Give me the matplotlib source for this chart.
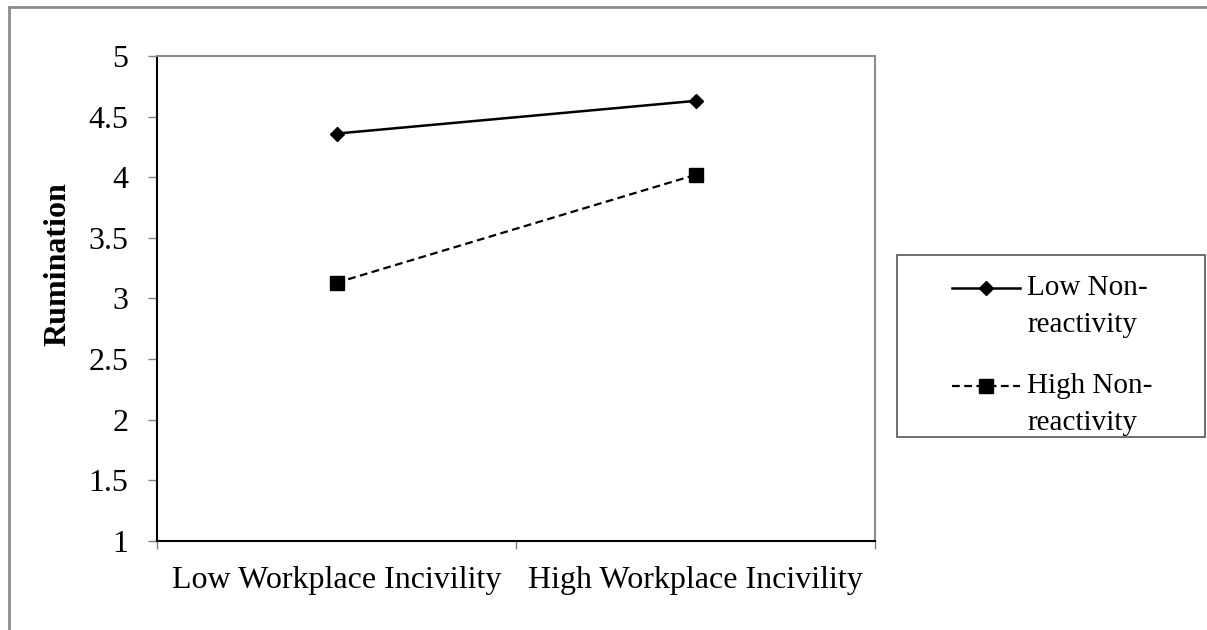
import matplotlib
matplotlib.use("Agg")
import matplotlib.pyplot as plt
from matplotlib.patches import Rectangle
from matplotlib.lines import Line2D

categories = ["Low Workplace Incivility", "High Workplace Incivility"]
series_names = [["Low Non-", "reactivity"], ["High Non-", "reactivity"]]
low_nonreactivity = [4.36, 4.63]
high_nonreactivity = [3.13, 4.02]
y_ticks = [1, 1.5, 2, 2.5, 3, 3.5, 4, 4.5, 5]
y_tick_labels = ["1", "1.5", "2", "2.5", "3", "3.5", "4", "4.5", "5"]

plt.rcParams['font.family'] = ['Liberation Serif', 'DejaVu Serif']

W, H = 1207, 630
fig = plt.figure(figsize=(W / 100, H / 100), dpi=100)
fig.patch.set_facecolor("white")

def fx(px):
    return px / W

def fy(py):
    return 1 - py / H

# outer chart border (only left and top visible)
fig.add_artist(Line2D([fx(9), fx(9)], [0, fy(7)], transform=fig.transFigure,
                      color="#8c8c8c", lw=2))
fig.add_artist(Line2D([fx(9), 1], [fy(7), fy(7)], transform=fig.transFigure,
                      color="#8c8c8c", lw=2))

L, R, T, B = 157, 875, 56, 541
ax = fig.add_axes([fx(L), fy(B), (R - L) / W, (B - T) / H])

styles = [
    dict(color="black", lw=1.8, linestyle="-", marker="D", markersize=7),
    dict(color="black", lw=1.6, linestyle=(0, (3.5, 2)), marker="s", markersize=10),
]

x = list(range(len(categories)))
ax.plot(x, low_nonreactivity, **styles[0])
ax.plot(x, high_nonreactivity, **styles[1])

ax.set_xlim(-0.5, len(categories) - 0.5)
ax.set_ylim(1, 5)
ax.set_yticks(y_ticks)
ax.set_yticklabels(y_tick_labels, fontsize=23)
ax.set_xticks([-0.5, 0.5, 1.5])
ax.set_xticklabels([])
ax.set_xticks(x, minor=True)
ax.set_xticklabels(categories, minor=True, fontsize=23)
ax.tick_params(axis="x", which="minor", length=0, pad=18)
ax.tick_params(axis="x", which="major", length=6, color="#808080", width=1)
ax.tick_params(axis="y", length=6.5, color="#808080", width=1, pad=14)

for s in ["left", "bottom"]:
    ax.spines[s].set_color("black")
    ax.spines[s].set_linewidth(1.5)
for s in ["top", "right"]:
    ax.spines[s].set_color("#8c8c8c")
    ax.spines[s].set_linewidth(1.5)

fig.text(fx(58), fy(264), "Rumination", rotation=90, fontsize=23,
         fontweight="bold", ha="center", va="center")

# legend box
fig.add_artist(Rectangle((fx(897), fy(437)), (1205 - 897) / W, (437 - 255) / H,
                         transform=fig.transFigure, fill=False,
                         edgecolor="#555555", lw=1.2))
legend_rows = [288, 386]
for name, st, yrow in zip(series_names, styles, legend_rows):
    fig.add_artist(Line2D([fx(952), fx(1020)], [fy(yrow), fy(yrow)],
                          transform=fig.transFigure, color=st["color"],
                          lw=st["lw"], linestyle=st["linestyle"]))
    fig.add_artist(Line2D([fx(986)], [fy(yrow)], transform=fig.transFigure,
                          color=st["color"], marker=st["marker"],
                          markersize=st["markersize"], linestyle="none"))
    for i, line in enumerate(name):
        fig.text(fx(1027), fy(yrow + 37 * i), line, fontsize=21,
                 ha="left", va="center")

fig.savefig("out.png", dpi=100, facecolor="white")
